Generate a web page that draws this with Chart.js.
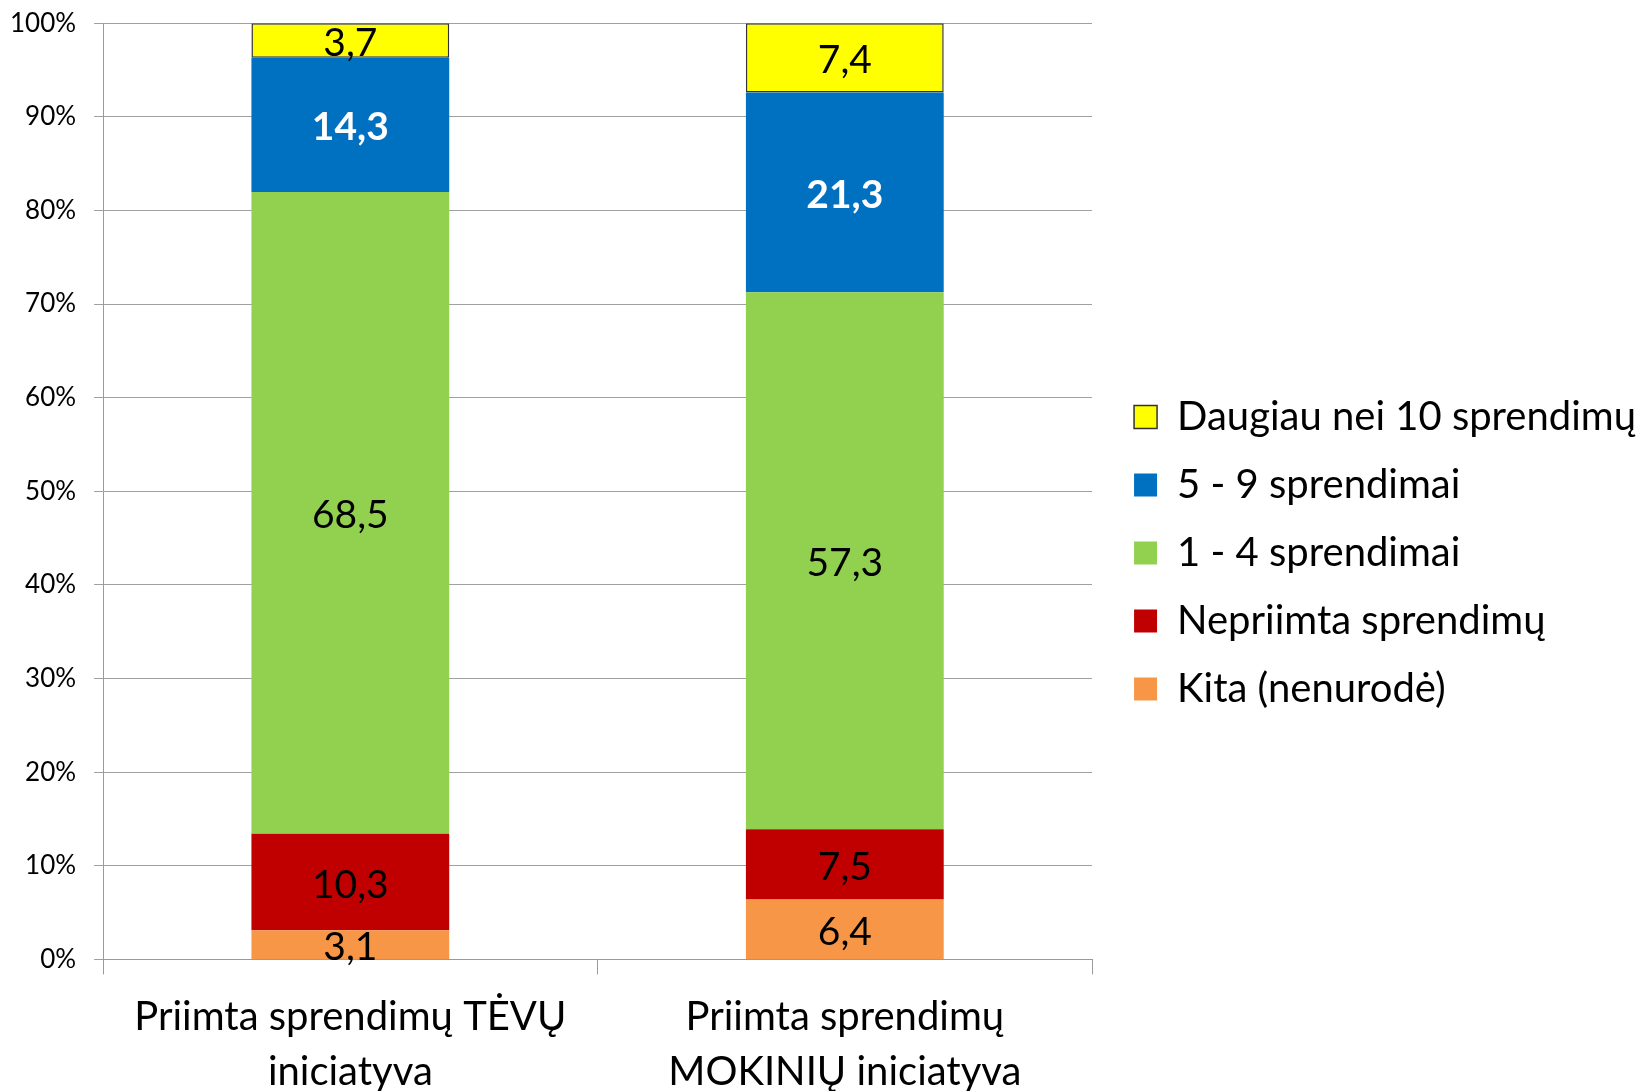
<!DOCTYPE html>
<html>
<head>
<meta charset="utf-8">
<script src="https://cdn.jsdelivr.net/npm/chart.js@4/dist/chart.umd.min.js"></script>
<style>
body{margin:0;background:#fff;}
#wrap{width:1645px;height:1091px;}
</style>
</head>
<body>
<div id="wrap"><canvas id="chart" width="1645" height="1091"></canvas></div>
<script>
const categories = [["Priimta sprendimų TĖVŲ","iniciatyva"],["Priimta sprendimų","MOKINIŲ iniciatyva"]]
const kita = [3.1, 6.4]
const nepriimta = [10.3, 7.5]
const vienasKeturi = [68.5, 57.3]
const penkiDevyni = [14.3, 21.3]
const daugiau = [3.7, 7.4]
const seriesNames = ["Kita (nenurodė)","Nepriimta sprendimų","1 - 4 sprendimai","5 - 9 sprendimai","Daugiau nei 10 sprendimų"]
const tickValues = [0,10,20,30,40,50,60,70,80,90,100]

const FONT = "Lato"
const raw = [kita, nepriimta, vienasKeturi, penkiDevyni, daugiau]
const colors = ["#F79646","#C00000","#92D050","#0070C0","#FFFF00"]
const labelStyle = [
  {color:"#000",weight:"normal"},
  {color:"#000",weight:"normal"},
  {color:"#000",weight:"normal"},
  {color:"#fff",weight:"bold"},
  {color:"#000",weight:"normal"}
]

// 100% stacked: normalise each column like Excel does
const totals = categories.map((_,i)=>raw.reduce((s,a)=>s+a[i],0))

const datasets = raw.map((arr,k)=>({
  label: seriesNames[k],
  data: arr.map((v,i)=>v/totals[i]*100),
  raw: arr,
  backgroundColor: colors[k],
  borderColor: k==4 ? "#333" : colors[k],
  borderWidth: k==4 ? 1.5 : 0,
  borderSkipped: false,
  categoryPercentage: 1,
  barPercentage: 0.4
}))

const valueLabels = {
  id:"valueLabels",
  afterDatasetsDraw(chart){
    const ctx = chart.ctx
    chart.data.datasets.forEach((ds,k)=>{
      const meta = chart.getDatasetMeta(k)
      meta.data.forEach((el,i)=>{
        const st = labelStyle[k]
        ctx.save()
        ctx.font = st.weight+" 39px "+FONT
        ctx.fillStyle = st.color
        ctx.textAlign = "center"
        ctx.textBaseline = "middle"
        ctx.fillText(String(ds.raw[i]).replace(".",","), el.x, (el.y+el.base)/2 + 3)
        ctx.restore()
      })
    })
  }
}

// nudge legend a little away from the plot
const legendShift = {
  id:"legendShift",
  afterLayout(chart){
    chart.legend.left += 14
    chart.legend.right += 14
    chart.legend.top -= 4
    chart.legend.bottom -= 4
  }
}

new Chart(document.getElementById("chart"),{
  type:"bar",
  data:{labels:categories, datasets:datasets},
  options:{
    responsive:false,
    devicePixelRatio:1,
    animation:false,
    layout:{padding:{top:0,left:-8,right:13,bottom:-23}},
    plugins:{
      legend:{
        position:"right",
        reverse:true,
        maxWidth:600,
        labels:{
          color:"#000",
          font:{family:FONT,size:40},
          boxWidth:23,
          boxHeight:23,
          padding:28
        }
      },
      tooltip:{enabled:false}
    },
    scales:{
      x:{
        stacked:true,
        offset:true,
        grid:{display:true,drawOnChartArea:false,drawTicks:true,tickLength:15,offset:true,color:"#9a9a9a"},
        border:{color:"#9a9a9a"},
        ticks:{color:"#000",font:{family:FONT,size:40,lineHeight:1.37},padding:15}
      },
      y:{
        stacked:true,
        min:0,max:100,
        afterBuildTicks(axis){axis.ticks = tickValues.map(v=>({value:v}))},
        grid:{color:"#a0a0a0",tickLength:9},
        border:{color:"#9a9a9a"},
        ticks:{color:"#000",font:{family:FONT,size:26,lineHeight:0.4},padding:18,callback:v=>v+"%"}
      }
    }
  },
  plugins:[valueLabels,legendShift]
})
</script>
</body>
</html>
